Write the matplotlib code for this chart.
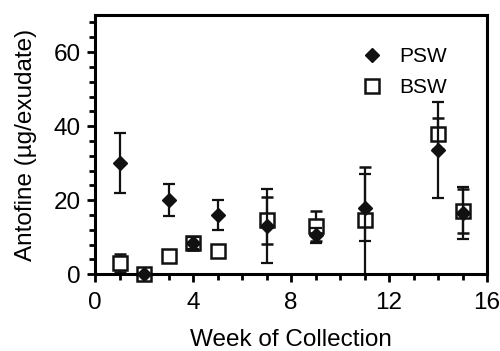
import numpy as np
import matplotlib
matplotlib.use('Agg')
import matplotlib.pyplot as plt
from matplotlib.ticker import MultipleLocator
from matplotlib.lines import Line2D

plt.rcParams['font.family'] = ['Liberation Sans', 'DejaVu Sans']

weeks = [1, 2, 3, 4, 5, 7, 9, 11, 14, 15]
psw = [30, 0, 20, 8.5, 16, 13, 10.5, 18, 33.5, 16.5]
psw_err = [8.2, 0, 4.3, 1.6, 4, 10, 2, 9, 13, 7]
bsw = [3, 0, 5, 8.3, 6.2, 14.5, 13, 14.5, 38, 17]
bsw_err = [2.5, 0, 0, 1.7, 0, 6.3, 4, 14.5, 4.3, 6]

fig, ax = plt.subplots(figsize=(5, 3.51), dpi=100)
fig.subplots_adjust(left=0.19, right=0.974, bottom=0.219, top=0.957)

ax.errorbar(weeks, psw, yerr=psw_err, fmt='D', color='#111111', ms=7.5,
            capsize=4.5, elinewidth=1.6, capthick=1.6, clip_on=False, zorder=3)
ax.errorbar(weeks, bsw, yerr=bsw_err, fmt='s', color='#111111', mfc='white', ms=9.5,
            mew=1.8, capsize=4.5, elinewidth=1.6, capthick=1.6, clip_on=False, zorder=2)

ax.set_xlim(0, 16)
ax.set_ylim(0, 70)
ax.set_xticks([0, 4, 8, 12, 16])
ax.set_yticks([0, 20, 40, 60])
ax.xaxis.set_minor_locator(MultipleLocator(1))
ax.yaxis.set_minor_locator(MultipleLocator(4))
ax.tick_params(which='major', length=6, width=2, labelsize=17.5)
ax.tick_params(axis='x', which='major', pad=7)
ax.tick_params(axis='y', which='major', pad=4)
ax.tick_params(which='minor', length=4, width=2)
for s in ax.spines.values():
    s.set_linewidth(2.2)

ax.set_xlabel('Week of Collection', fontsize=17.5, labelpad=11)
ax.set_ylabel('Antofine (µg/exudate)', fontsize=17.5, labelpad=12)

handles = [Line2D([], [], ls='none', marker='D', color='#111111', ms=7.5),
           Line2D([], [], ls='none', marker='s', color='#111111', mfc='white', ms=9.5, mew=1.8)]
ax.legend(handles, ['PSW', 'BSW'], loc='upper right', bbox_to_anchor=(0.945, 0.95),
          frameon=False, fontsize=15, handletextpad=0.7, labelspacing=0.6, handlelength=1.2)

fig.savefig('out.png', dpi=100)
